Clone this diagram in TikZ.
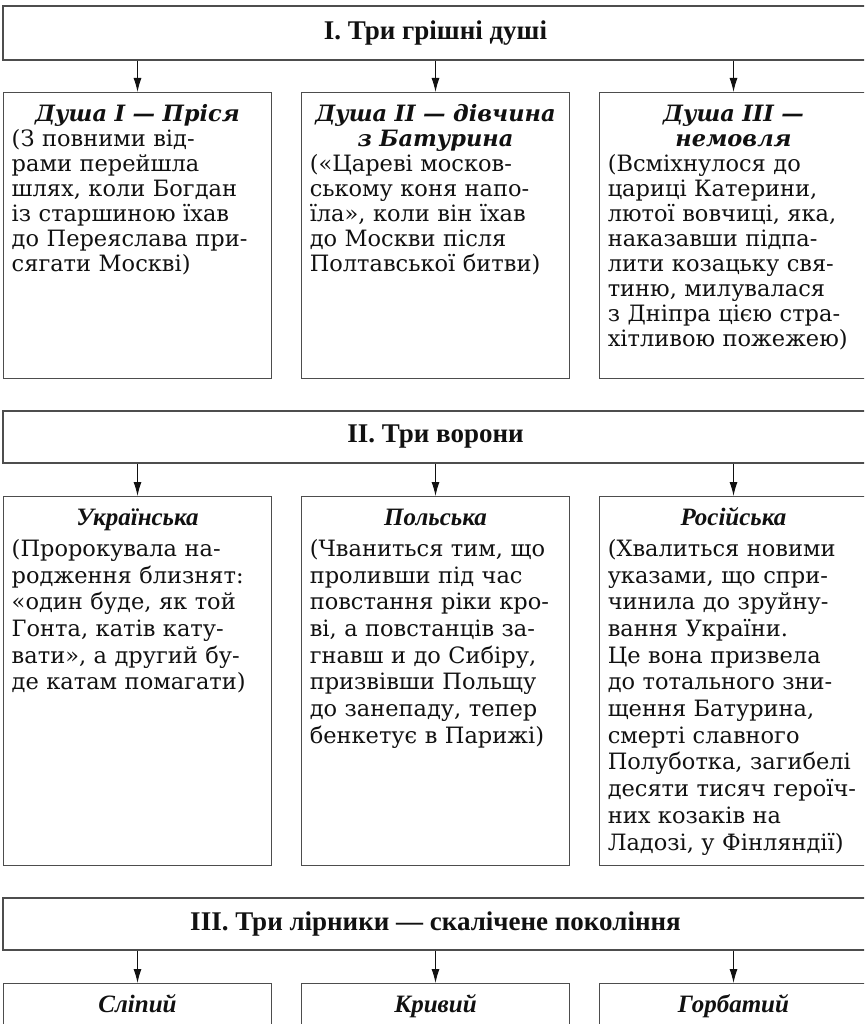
\documentclass[tikz,border=0pt]{standalone}
\usepackage{fontspec}
\setmainfont{DejaVu Serif}
\newfontfamily\headfont{Liberation Serif}
\usetikzlibrary{arrows.meta}
\definecolor{framegray}{HTML}{4D4D4D}
\definecolor{ink}{HTML}{111111}
\newcommand\titlewide[1]{\makebox[\linewidth]{\bfseries\itshape #1}}
\newcommand\titlenarrow[1]{\makebox[\linewidth]{\headfont\bfseries\itshape\fontsize{25}{26.7}\selectfont #1}}
\tikzset{
  header/.style  = {shape=rectangle, draw=framegray, line width=1.3pt,
                    minimum width=865pt, minimum height=53pt, inner sep=0pt,
                    text=ink, font=\headfont\bfseries\fontsize{27}{28}\selectfont},
  card/.style    = {shape=rectangle, draw=framegray, line width=1.3pt,
                    anchor=north, align=left, text width=251.5pt,
                    inner xsep=8pt, inner ysep=4pt,
                    text height=25pt, text depth=#1,
                    text=ink, font=\fontsize{22.5}{25}\selectfont},
  crowcard/.style = {card=#1, font=\fontsize{22.5}{26.7}\selectfont},
  pointer/.style = {draw=ink, line width=1pt, -{Latex[length=14pt,width=8pt]}}
}

\begin{document}
\begin{tikzpicture}
  [
    x = 1pt, y = 1pt,
    grow                    = down,
    level distance          = 59pt,
    sibling distance        = 298pt,
    edge from parent/.style = {pointer},
    edge from parent path   = {(\tikzchildnode.north |- \tikzparentnode.south) -- (\tikzchildnode.north)}
  ]
  \useasboundingbox (0,0) rectangle (864,-1024);
  \clip (0,0) rectangle (864,-1024);

  % three sinful souls
  \node [header, minimum height=54pt] (souls) at (435.5,-33) {І. Три грішні душі}
    child { node [card=253pt] (prisia) {\titlewide{Душа І — Пріся}\\
      (З повними від-\\ рами перейшла\\ шлях, коли Богдан\\ із старшиною їхав\\
      до Переяслава при-\\ сягати Москві)} }
    child { node [card=253pt] (girl) {\titlewide{Душа ІІ — дівчина}\\ \titlewide{з Батурина}\\
      («Цареві москов-\\ ському коня напо-\\ їла», коли він їхав\\ до Москви після\\
      Полтавської битви)} }
    child { node [card=253pt] (infant) {\titlewide{Душа ІІІ —}\\ \titlewide{немовля}\\
      (Всміхнулося до\\ цариці Катерини,\\ лютої вовчиці, яка,\\ наказавши підпа-\\
      лити козацьку свя-\\ тиню, милувалася\\ з Дніпра цією стра-\\ хітливою пожежею)} };

  % three crows
  \node [header, minimum height=52pt] (crows) at (435.5,-437) {ІІ. Три ворони}
    child { node [crowcard=336pt] (ukr) {\titlenarrow{Українська}\\[4pt]
      (Пророкувала на-\\ родження близнят:\\ «один буде, як той\\ Гонта, катів кату-\\
      вати», а другий бу-\\ де катам помагати)} }
    child { node [crowcard=336pt] (pol) {\titlenarrow{Польська}\\[4pt]
      (Чваниться тим, що\\ проливши під час\\ повстання ріки кро-\\ ві, а повстанців за-\\
      гнавш и до Сибіру,\\ призвівши Польщу\\ до занепаду, тепер\\ бенкетує в Парижі)} }
    child { node [crowcard=336pt] (ros) {\titlenarrow{Російська}\\[4pt]
      (Хвалиться новими\\ указами, що спри-\\ чинила до зруйну-\\ вання України.\\
      Це вона призвела\\ до тотального зни-\\ щення Батурина,\\ смерті славного\\
      Полуботка, загибелі\\ десяти тисяч героїч-\\ них козаків на\\ Ладозі, у Фінляндії)} };

  % three lyre players
  \node [header, minimum height=52pt] (lyre) at (435.5,-924) {ІІІ. Три лірники — скалічене покоління}
    child { node [card=120pt] (blind) {\titlenarrow{Сліпий}} }
    child { node [card=120pt] (lame) {\titlenarrow{Кривий}} }
    child { node [card=120pt] (hunch) {\titlenarrow{Горбатий}} };
\end{tikzpicture}
\end{document}
